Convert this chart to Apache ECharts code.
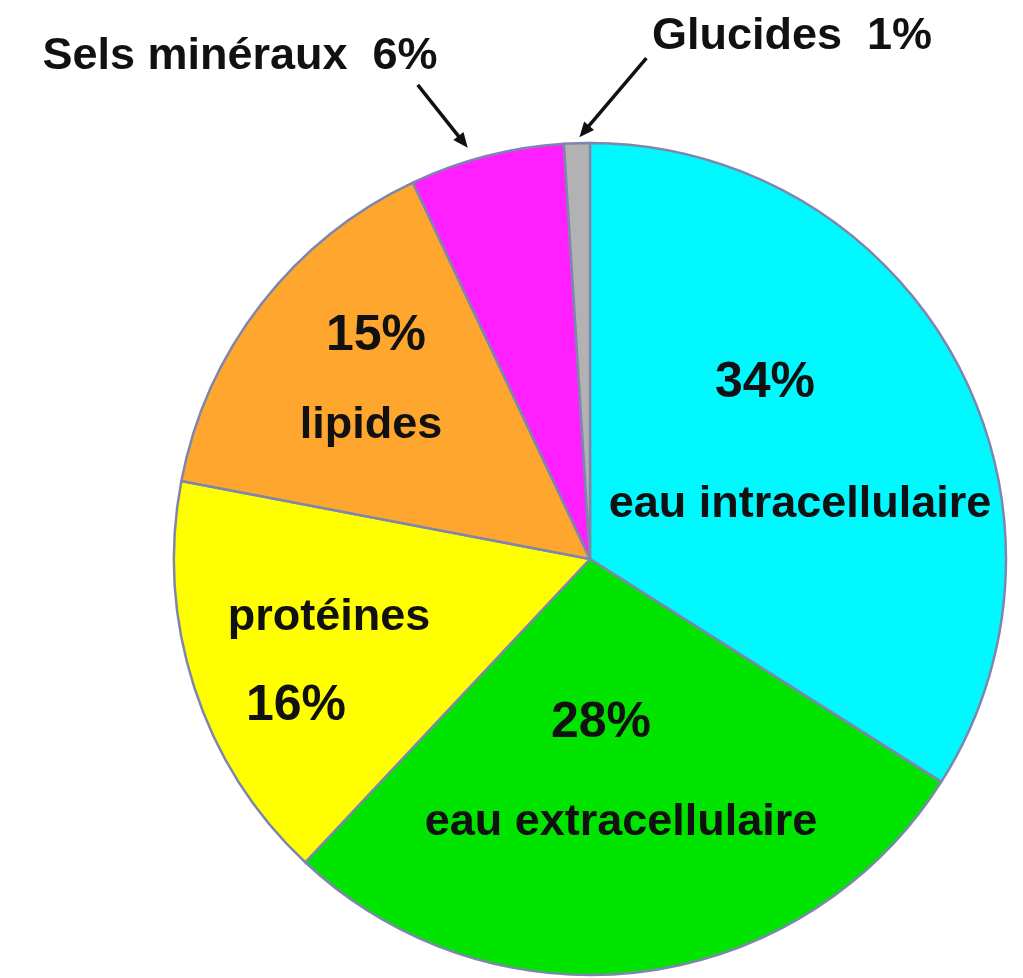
<!DOCTYPE html>
<html><head><meta charset="utf-8">
<script src="https://cdn.jsdelivr.net/npm/echarts@6/dist/echarts.min.js"></script>
<style>html,body{margin:0;padding:0;background:#fff}#c{width:1023px;height:978px}</style>
</head><body><div id="c"></div>
<script>
// ---- data ----
const categories = ['eau intracellulaire', 'eau extracellulaire', 'protéines', 'lipides', 'Sels minéraux', 'Glucides'];
const values = [34, 28, 16, 15, 6, 1];
const colors = ['#00F8FF', '#00E400', '#FFFF00', '#FFA62F', '#FF1FFF', '#B2B2B2'];

// ---- label styling / placement (relative to pie centre) ----
const CENTER = [590, 559];
const RADIUS = 416;
const labelOffsets = [[210, -115], [31, 214], [-261, 103], [-219, -178], [-350, -502], [202, -522]];
const lineGaps = [122, 100, 88, 90, 0, 0];
const pctShift = [-35, -20, -33, 5, 0, 0];
const nameFirst = [false, false, true, false, false, false];
const isOuter = [false, false, false, false, true, true];
const arrowAt = [null, null, null, null, 0.4, 0.6];      // fraction inside the slice
const arrowGap = [0, 0, 0, 0, 13, 6];                    // px beyond the rim
const arrowTail = [null, null, null, null, [-50, -63], [67, -79]];

const FONT = '"Liberation Sans", Arial, sans-serif';
const TXT = '#111';

const chart = echarts.init(document.getElementById('c'), null, {renderer: 'canvas'});

const seriesData = categories.map((name, i) => {
  let formatter, rich;
  if (isOuter[i]) {
    formatter = '{o|' + name + '  ' + values[i] + '%}';
    rich = {o: {fontSize: 45, fontWeight: 'bold', fontFamily: FONT, color: TXT}};
  } else {
    const s = pctShift[i];
    const pad = [0, s < 0 ? -2 * s : 0, 0, s > 0 ? 2 * s : 0];
    const pct = '{v|' + values[i] + '%}';
    const nm = '{n|' + name + '}';
    formatter = nameFirst[i] ? nm + '\n' + pct : pct + '\n' + nm;
    rich = {
      v: {fontSize: 50, fontWeight: 'bold', fontFamily: FONT, color: TXT, lineHeight: lineGaps[i], padding: pad},
      n: {fontSize: 45, fontWeight: 'bold', fontFamily: FONT, color: TXT, lineHeight: lineGaps[i]}
    };
  }
  return {
    name: name,
    value: values[i],
    itemStyle: {color: colors[i]},
    label: {formatter: formatter, rich: rich}
  };
});

chart.setOption({
  animation: false,
  backgroundColor: '#ffffff',
  series: [{
    type: 'pie',
    center: CENTER,
    radius: RADIUS,
    startAngle: 90,
    clockwise: true,
    avoidLabelOverlap: false,
    silent: true,
    itemStyle: {borderColor: '#7f86ae', borderWidth: 2.5},
    label: {
      show: true,
      position: 'inside',
      color: TXT,
      fontFamily: FONT,
      fontWeight: 'bold',
      textBorderWidth: 0
    },
    labelLine: {show: false},
    labelLayout: function (p) {
      const o = labelOffsets[p.dataIndex];
      return {x: CENTER[0] + o[0], y: CENTER[1] + o[1], align: 'center', verticalAlign: 'middle'};
    },
    data: seriesData
  }]
});

// arrows pointing from outer labels to their slices
const data = chart.getModel().getSeriesByIndex(0).getData();
const graphics = [];
values.forEach((v, i) => {
  if (!arrowTail[i]) return;
  const L = data.getItemLayout(i);
  const ang = L.startAngle + (L.endAngle - L.startAngle) * arrowAt[i];
  const rr = L.r + arrowGap[i];
  const tx = L.cx + rr * Math.cos(ang), ty = L.cy + rr * Math.sin(ang);
  const sx = tx + arrowTail[i][0], sy = ty + arrowTail[i][1];
  const dx = tx - sx, dy = ty - sy, len = Math.hypot(dx, dy);
  const ux = dx / len, uy = dy / len;
  const hl = 15, hw = 6.5;
  const bx = tx - ux * hl, by = ty - uy * hl;
  graphics.push({
    type: 'line', silent: true,
    shape: {x1: sx, y1: sy, x2: bx + ux * 2, y2: by + uy * 2},
    style: {stroke: '#111', lineWidth: 3.5}
  });
  graphics.push({
    type: 'polygon', silent: true,
    shape: {points: [[tx, ty], [bx - uy * hw, by + ux * hw], [bx + uy * hw, by - ux * hw]]},
    style: {fill: '#111'}
  });
});
chart.setOption({graphic: graphics});
</script>
</body></html>
